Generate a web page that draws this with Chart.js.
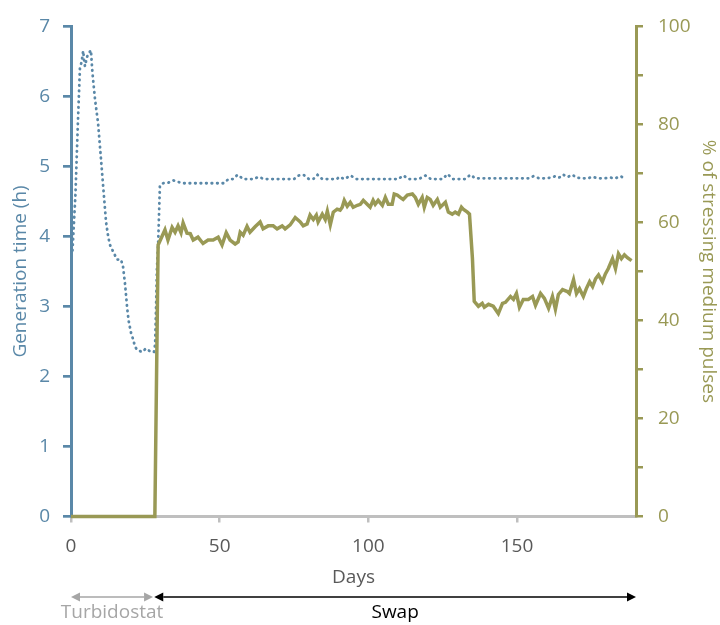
<!DOCTYPE html>
<html>
<head>
<meta charset="utf-8">
<script src="https://cdn.jsdelivr.net/npm/chart.js@4.4.1/dist/chart.umd.min.js"></script>
<style>
  body { margin: 0; background: #fff; }
  canvas { display: block; }
</style>
</head>
<body>
<canvas id="chart" width="720" height="625"></canvas>
<script>
// Generation time (h), dotted blue line, left axis
const genDays = [
    0.5, 1.5, 2.3, 3.0, 3.6, 4.1, 4.4, 4.7, 5.3, 5.7,
    6.7, 7.1, 7.4, 8.1, 9.1, 10.0, 10.9, 11.8, 12.5, 13.1,
    14.1, 15.5, 16.8, 17.5, 18.2, 18.9, 19.4, 20.2, 20.9, 21.5,
    22.2, 23.9, 25.2, 26.9, 27.9, 28.3, 28.6, 28.9, 29.3, 29.9,
    31.0, 32.8, 34.4, 35.8, 37.8, 40, 42, 44, 46, 48,
    50, 51.3, 53, 54.5, 56, 58, 60, 61.5, 63, 65,
    67, 69, 71, 73, 75, 76.5, 78.2, 80, 81.5, 82.9,
    84.5, 86, 87.5, 89.4, 90.2, 92, 94, 96, 98, 100,
    102, 104, 106, 108, 110, 111.8, 113.5, 115, 117, 119.2,
    121, 123, 125, 126.6, 128.5, 130.5, 132.5, 134.3, 136, 138,
    140, 142, 144, 146, 148, 150, 152, 153.8, 155.5, 157.5,
    159.5, 161.3, 162.9, 164, 165.3, 165.6, 167, 168.6, 170, 172,
    173.7, 175.4, 177.3, 179.4, 181.4, 183, 184.8, 186.7
];
const genHours = [
    3.8, 4.6, 5.6, 6.4, 6.5, 6.65, 6.52, 6.43, 6.55, 6.6,
    6.66, 6.4, 6.25, 5.95, 5.62, 5.15, 4.67, 4.2, 4.0, 3.88,
    3.79, 3.67, 3.67, 3.57, 3.31, 2.97, 2.79, 2.62, 2.53, 2.43,
    2.38, 2.35, 2.4, 2.35, 2.35, 2.46, 2.97, 3.54, 3.88, 4.73,
    4.76, 4.77, 4.80, 4.78, 4.76, 4.76, 4.76, 4.76, 4.76, 4.76,
    4.76, 4.76, 4.82, 4.82, 4.88, 4.82, 4.82, 4.82, 4.85, 4.82,
    4.82, 4.82, 4.82, 4.82, 4.82, 4.87, 4.88, 4.82, 4.82, 4.88,
    4.82, 4.82, 4.82, 4.82, 4.85, 4.82, 4.87, 4.82, 4.82, 4.82,
    4.82, 4.82, 4.82, 4.82, 4.82, 4.87, 4.82, 4.82, 4.82, 4.87,
    4.82, 4.82, 4.82, 4.89, 4.82, 4.82, 4.82, 4.88, 4.83, 4.83,
    4.83, 4.83, 4.83, 4.83, 4.83, 4.83, 4.83, 4.83, 4.86, 4.83,
    4.83, 4.84, 4.86, 4.84, 4.86, 4.88, 4.85, 4.88, 4.84, 4.83,
    4.83, 4.85, 4.83, 4.83, 4.84, 4.83, 4.86, 4.82
];

// % of stressing medium pulses, solid olive line, right axis
const pulseDays = [
    0, 28.2, 29.3, 31.6, 32.6, 34.0, 35.0, 36.0, 37.0, 37.7,
    39.0, 40.1, 41.1, 42.7, 44.4, 46.1, 47.8, 49.5, 50.8, 52.2,
    53.5, 55.2, 56.2, 56.9, 57.9, 59.2, 60.2, 61.9, 63.6, 64.6,
    66.3, 68.0, 69.3, 71.0, 72.0, 73.7, 75.4, 77.1, 78.1, 79.4,
    80.4, 81.5, 82.5, 83.1, 84.5, 85.5, 86.2, 87.2, 88.2, 89.5,
    90.5, 91.2, 91.9, 92.9, 93.9, 94.9, 96.3, 97.3, 98.3, 99.6,
    100.6, 101.6, 102.3, 103.3, 104.7, 105.7, 106.7, 108.0, 108.7, 109.7,
    110.7, 111.7, 113.1, 114.8, 115.8, 116.8, 118.1, 118.8, 119.8, 120.8,
    121.8, 123.2, 124.2, 125.9, 126.9, 128.2, 129.2, 130.3, 131.3, 131.9,
    133.3, 134.0, 135.0, 135.6, 137.0, 138.3, 139.0, 140.4, 142.0, 143.7,
    145.1, 146.1, 147.8, 148.8, 149.8, 150.8, 152.1, 153.8, 155.2, 156.2,
    157.9, 159.2, 160.6, 161.9, 162.9, 163.9, 165.3, 166.9, 167.6, 169.0,
    170.0, 171.0, 172.3, 173.3, 174.4, 175.4, 176.4, 177.4, 178.7, 179.7,
    180.7, 182.1, 183.1, 184.1, 185.1, 186.1, 187.1, 188.5
];
const pulsePct = [
    0, 0, 55.4, 58.5, 56.4, 59.0, 58.0, 59.3, 57.9, 59.9,
    57.8, 57.7, 56.4, 57.0, 55.7, 56.4, 56.4, 57.0, 55.4, 57.9,
    56.4, 55.6, 56.0, 58.0, 57.4, 59.2, 58.0, 59.1, 60.1, 58.7,
    59.3, 59.3, 58.7, 59.3, 58.7, 59.5, 61.0, 60.1, 59.3, 59.7,
    61.5, 60.6, 61.5, 60.1, 61.7, 60.6, 62.3, 59.5, 62.1, 62.7,
    62.5, 63.1, 64.5, 63.3, 64.1, 63.1, 63.5, 63.7, 64.5, 63.7,
    63.1, 64.5, 63.7, 64.5, 63.5, 65.1, 63.7, 63.7, 65.8, 65.6,
    65.1, 64.7, 65.6, 65.8, 65.1, 63.7, 65.1, 63.1, 65.1, 64.7,
    63.5, 64.7, 63.1, 64.1, 62.1, 61.7, 62.1, 61.7, 63.1, 62.7,
    62.1, 61.7, 52.6, 43.9, 42.9, 43.5, 42.7, 43.3, 42.9, 41.4,
    43.5, 43.7, 44.9, 44.3, 45.5, 42.7, 44.3, 44.3, 44.9, 43.1,
    45.5, 44.5, 42.5, 44.9, 42.3, 45.3, 46.3, 45.9, 45.5, 48.3,
    45.5, 46.5, 44.9, 46.5, 47.9, 46.9, 48.5, 49.3, 47.9, 49.5,
    50.6, 52.6, 50.6, 53.6, 52.6, 53.4, 52.8, 52.2
];

// Experiment phases shown as arrows under the x axis
const phaseNames = ['Turbidostat', 'Swap'];
const phaseStart = [0, 28];
const phaseEnd = [27.6, 190];

const blue = '#5a88a8';
const olive = '#999955';
const phaseColors = ['#a6a6a6', '#000000'];
const font = { family: 'Open Sans', size: 19 };

// draws the double-headed phase arrows and their labels
const phaseArrows = {
    id: 'phaseArrows',
    afterDraw(chart) {
        const ctx = chart.ctx;
        const xs = chart.scales.x;
        const y = 597;
        const head = 9, half = 4.5;
        ctx.save();
        phaseNames.forEach((name, i) => {
            const x1 = xs.getPixelForValue(phaseStart[i]);
            const x2 = xs.getPixelForValue(phaseEnd[i]);
            ctx.strokeStyle = phaseColors[i];
            ctx.fillStyle = phaseColors[i];
            ctx.lineWidth = 1.3;
            ctx.beginPath();
            ctx.moveTo(x1 + head, y);
            ctx.lineTo(x2 - head, y);
            ctx.stroke();
            ctx.beginPath();
            ctx.moveTo(x1, y);
            ctx.lineTo(x1 + head, y - half);
            ctx.lineTo(x1 + head, y + half);
            ctx.closePath();
            ctx.fill();
            ctx.beginPath();
            ctx.moveTo(x2, y);
            ctx.lineTo(x2 - head, y - half);
            ctx.lineTo(x2 - head, y + half);
            ctx.closePath();
            ctx.fill();
            ctx.font = font.size + 'px ' + font.family;
            ctx.textAlign = 'center';
            ctx.textBaseline = 'middle';
            ctx.fillText(name, (x1 + x2) / 2, 613);
        });
        ctx.restore();
    }
};

const ctx = document.getElementById('chart').getContext('2d');
new Chart(ctx, {
    type: 'line',
    data: {
        datasets: [{
            label: '% of stressing medium pulses',
            data: pulseDays.map((d, i) => ({ x: d, y: pulsePct[i] })),
            yAxisID: 'y2',
            borderColor: olive,
            borderWidth: 3.5,
            pointRadius: 0,
            tension: 0,
            clip: false
        }, {
            label: 'Generation time (h)',
            data: genDays.map((d, i) => ({ x: d, y: genHours[i] })),
            yAxisID: 'y',
            borderColor: blue,
            borderWidth: 2.8,
            borderDash: [0.5, 5],
            borderCapStyle: 'round',
            pointRadius: 0,
            tension: 0,
            clip: false
        }]
    },
    options: {
        responsive: false,
        animation: false,
        layout: { padding: { top: 23, left: 0, right: 0, bottom: 0 } },
        plugins: {
            legend: { display: false },
            tooltip: { enabled: false }
        },
        scales: {
            x: {
                type: 'linear',
                position: 'bottom',
                min: 0,
                max: 190,
                border: { color: '#bfbfbf', width: 3 },
                grid: { drawOnChartArea: false, tickLength: 6, color: '#bfbfbf', lineWidth: 2.5 },
                ticks: { stepSize: 50, color: '#595959', font: font, padding: 13, maxRotation: 0 },
                afterBuildTicks: s => { s.ticks = s.ticks.filter(t => t.value % 50 === 0); },
                afterFit: s => { s.height = 108.5; },
                title: { display: true, text: 'Days', color: '#595959', font: font, padding: { top: 0, bottom: 36 } }
            },
            y: {
                position: 'left',
                min: 0,
                max: 7,
                border: { color: blue, width: 3 },
                grid: { drawOnChartArea: false, tickLength: 8, color: blue, lineWidth: 2.7 },
                ticks: { stepSize: 1, color: blue, font: font, padding: 13 },
                afterFit: s => { s.width = 71; },
                title: { display: true, text: 'Generation time (h)', color: blue, font: font, padding: { top: 9, bottom: 0 } }
            },
            y2: {
                position: 'right',
                min: 0,
                max: 100,
                border: { color: olive, width: 3 },
                grid: { drawOnChartArea: false, tickLength: 7, color: olive, lineWidth: 2.5 },
                ticks: {
                    stepSize: 10,
                    color: olive,
                    font: font,
                    padding: 15,
                    callback: v => (v % 20 === 0 ? v : '')
                },
                afterFit: s => { s.width = 84; },
                title: { display: true, text: '% of stressing medium pulses', color: olive, font: font, padding: { top: 0, bottom: 0 } }
            }
        }
    },
    plugins: [phaseArrows]
});
</script>
</body>
</html>
